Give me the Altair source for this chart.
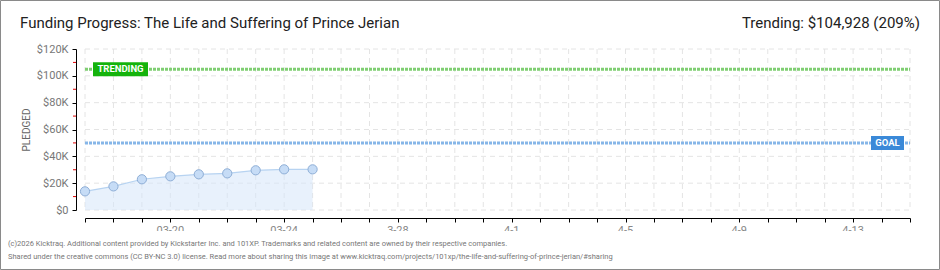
import altair as alt
import pandas as pd

# ---- data ----
dates = ["03-17", "03-18", "03-19", "03-20", "03-21", "03-22", "03-23", "03-24", "03-25"]
pledged = [13900, 17600, 22900, 25100, 26600, 27300, 29600, 30300, 30300]
goal = 50000
trending = 104928
n_days = 29  # 03-17 .. 04-15
tick_days = [3, 7, 11, 15, 19, 23, 27]
tick_labels = ["03-20", "03-24", "3-28", "4-1", "4-5", "4-9", "4-13"]
y_ticks = [0, 20000, 40000, 60000, 80000, 100000, 120000]
y_minor = [10000, 30000, 50000, 70000, 90000, 110000]
title_text = "Funding Progress: The Life and Suffering of Prince Jerian"
trend_text = "Trending:  $104,928 (209%)"
footer1 = "(c)2026 Kicktraq. Additional content provided by Kickstarter Inc. and 101XP. Trademarks and related content are owned by their respective companies."
footer2 = "Shared under the creative commons (CC BY-NC 3.0) license. Read more about sharing this image at www.kicktraq.com/projects/101xp/the-life-and-suffering-of-prince-jerian/#sharing"

df = pd.DataFrame({"day": list(range(len(dates))), "date": dates, "pledged": pledged})
lines_df = pd.DataFrame({"value": [trending, goal], "label": ["TRENDING", "GOAL"]})
grid_x = pd.DataFrame({"day": list(range(n_days + 1))})
grid_y = pd.DataFrame({"v": y_ticks})
minor_df = pd.DataFrame({"m": y_minor})
xlab_df = pd.DataFrame({"day": tick_days, "label": tick_labels})

W, H = 825, 161
FONT = "Roboto"

xscale = alt.Scale(domain=[0, n_days], nice=False, zero=False)
yscale = alt.Scale(domain=[0, 120000], nice=False)

xaxis = alt.Axis(values=list(range(n_days + 1)), labels=False, grid=False,
                 offset=8, tickSize=4, tickColor="#000", domainColor="#000", title=None)
yaxis = alt.Axis(values=y_ticks, grid=False, offset=9, tickSize=4, tickColor="#000",
                 domainColor="#000", labelColor="#777", labelFontSize=11, labelFont=FONT,
                 labelExpr="datum.value == 0 ? '$0' : '$' + (datum.value/1000) + 'K'",
                 labelPadding=4, title=None, labelOverlap=False)

def X(field):
    return alt.X(field, scale=xscale, axis=xaxis)

def Y(field):
    return alt.Y(field, scale=yscale, axis=yaxis)

vgrid = alt.Chart(grid_x).mark_rule(color="#e4e4e4", strokeDash=[5, 4], strokeWidth=1).encode(
    x=X("day:Q"), y=alt.value(0), y2=alt.value(H))
hgrid = alt.Chart(grid_y).mark_rule(color="#e4e4e4", strokeDash=[5, 4], strokeWidth=1).encode(
    y=Y("v:Q"), x=alt.value(0), x2=alt.value(W))
minor = alt.Chart(minor_df).mark_rule(color="#e00000", strokeWidth=1).encode(
    y=Y("m:Q"), x=alt.value(-12), x2=alt.value(-9))

area = alt.Chart(df).mark_area(color="#d6e6f9", opacity=0.55).encode(
    x=X("day:Q"), y=Y("pledged:Q"))
line = alt.Chart(df).mark_line(color="#b7d3f1", strokeWidth=1.2).encode(
    x=X("day:Q"), y=Y("pledged:Q"))
points = alt.Chart(df).mark_point(filled=True, size=85, fill="#c6dcf6", stroke="#8eaed6",
                                  strokeWidth=1, opacity=1, fillOpacity=1).encode(
    x=X("day:Q"), y=Y("pledged:Q"))

xlabels = alt.Chart(xlab_df).mark_text(fontSize=11, color="#888", font=FONT,
                                       baseline="top", align="center").encode(
    x=X("day:Q"), y=alt.value(H + 15), text="label:N")

trend_df = lines_df[lines_df.label == "TRENDING"]
goal_df = lines_df[lines_df.label == "GOAL"]

trend_line = alt.Chart(trend_df).mark_rule(color="#7fce72", strokeWidth=3, strokeDash=[3, 1]).encode(
    y=Y("value:Q"), x=alt.value(0), x2=alt.value(W))
goal_line = alt.Chart(goal_df).mark_rule(color="#86b6e8", strokeWidth=3, strokeDash=[3, 1]).encode(
    y=Y("value:Q"), x=alt.value(0), x2=alt.value(W))

trend_box = alt.Chart(trend_df).mark_rule(color="#14b30c", strokeWidth=14, strokeCap="butt").encode(
    y=Y("value:Q"), x=alt.value(8), x2=alt.value(63))
trend_lbl = alt.Chart(trend_df).mark_text(color="white", fontSize=9.5, font=FONT,
                                          fontWeight="bold", align="center", baseline="middle").encode(
    y=Y("value:Q"), x=alt.value(35.5), text="label:N")
goal_box = alt.Chart(goal_df).mark_rule(color="#3a89d8", strokeWidth=14, strokeCap="butt").encode(
    y=Y("value:Q"), x=alt.value(786), x2=alt.value(819))
goal_lbl = alt.Chart(goal_df).mark_text(color="white", fontSize=9.5, font=FONT,
                                        fontWeight="bold", align="center", baseline="middle").encode(
    y=Y("value:Q"), x=alt.value(802.5), text="label:N")

one = pd.DataFrame({"a": [0]})
def txt(text, x, y, size, color, align="left", angle=0, font=FONT):
    return alt.Chart(one).mark_text(text=text, fontSize=size, color=color, align=align,
                                    baseline="middle", font=font, angle=angle).encode(
        x=alt.value(x), y=alt.value(y))

footer_bg = alt.Chart(one).mark_rect(fill="white", stroke=None).encode(
    x=alt.value(-84), x2=alt.value(854), y=alt.value(182), y2=alt.value(220))

title = txt(title_text, -65, -26, 15, "#222")
trend_t = txt(trend_text, 835, -26, 15, "#222", align="right")
footer_a = txt(footer1, -77, 195, 7.5, "#777")
footer_b = txt(footer2, -77, 207.5, 7.5, "#777")
ytitle = txt("PLEDGED", -58, 81, 10, "#666", align="center", angle=270)

border = alt.Chart(one).mark_rect(fill=None, stroke="#8a8a8a", strokeWidth=1).encode(
    x=alt.value(-84.5), x2=alt.value(854.5), y=alt.value(-48.5), y2=alt.value(220.5))

chart = alt.layer(
    vgrid, hgrid, area, line, trend_line, goal_line, points,
    trend_box, trend_lbl, goal_box, goal_lbl, minor, xlabels, footer_bg,
    title, trend_t, footer_a, footer_b, ytitle, border
).properties(
    width=W, height=H,
    autosize=alt.AutoSizeParams(type="none"),
    padding={"left": 85, "top": 49, "right": 30, "bottom": 60},
    background="white"
).configure_view(stroke=None).configure_axis(labelOverlap=False)

chart.save("out.html", embed_options={"renderer": "svg", "actions": False})
